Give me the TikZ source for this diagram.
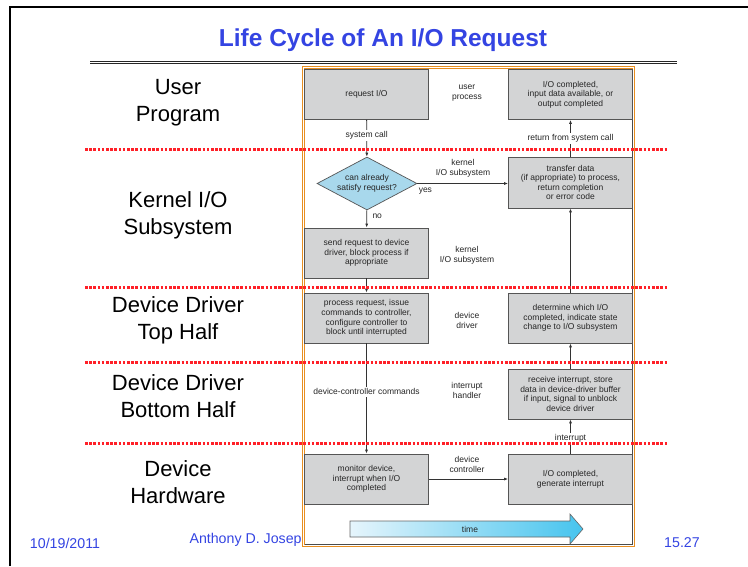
\documentclass[tikz,border=0pt]{standalone}
\usepackage{fontspec}
\setmainfont{Liberation Sans}
\usetikzlibrary{shapes.geometric,arrows.meta}
\definecolor{titleblue}{RGB}{52,68,226}
\definecolor{boxgray}{RGB}{211,212,213}
\definecolor{boxedge}{RGB}{85,85,85}
\definecolor{diamblue}{RGB}{168,216,236}
\definecolor{frameorange}{RGB}{232,142,32}
\definecolor{dotred}{RGB}{255,32,40}
\definecolor{timelight}{RGB}{230,245,252}
\definecolor{timedark}{RGB}{70,196,238}
\newcommand{\figfont}{\fontsize{8.5}{9.6}\selectfont}
\tikzset{
  stagebox/.style={draw=boxedge, fill=boxgray, line width=0.7pt,
    minimum width=124pt, minimum height=50pt, inner sep=2pt,
    align=center, font=\figfont, text=black!85},
  checkbox/.style={diamond, draw=boxedge, fill=diamblue, line width=0.7pt,
    aspect=1.9, inner sep=0pt, minimum width=100pt, minimum height=53pt,
    align=center, font=\figfont, text=black!85},
  tier/.style={align=center, font=\figfont, text=black!85},
  lbl/.style={fill=white, inner sep=1.5pt, font=\figfont, text=black!85},
  flow/.style={draw=black!80, line width=0.8pt, -{Latex[length=4pt,width=3pt]}},
  layer/.style={align=center, font=\fontsize{22}{27}\selectfont},
  footer/.style={font=\fontsize{14.2}{16}\selectfont, text=titleblue},
  border/.style={dotred, line width=3pt, dash pattern=on 2.6pt off 1.6pt}
}
\begin{document}
\begin{tikzpicture}[x=1pt, y=-1pt]
    \useasboundingbox (0,0) rectangle (748,566);
    \def\xl{366.5}
    \def\xm{467}
    \def\xr{570.5}
    % footer
    \node[footer] (date) at (65,543) {10/19/2011};
    \node[footer, anchor=west] (author) at (186,540) {Anthony D. Josep};
    \node[footer] (page) at (682,543) {15.27};
    % figure frame
    \fill[white] (303,67) rectangle (634,546);
    \draw[frameorange, line width=0.9pt] (302.5,66.5) rectangle (634.5,546.5);
    \draw[frameorange, line width=0.9pt] (304.5,68.5) rectangle (632.5,544.5);
    \draw[black!70, line width=1pt] (305,544) -- (632,544) -- (632,69);
    % stages
    \node[stagebox] (req) at (\xl,94.5) {request I/O};
    \node[stagebox] (done) at (\xr,94.5) {I/O completed,\\input data available, or\\output completed};
    \node[checkbox] (check) at (367,183.5) {can already\\satisfy request?};
    \node[stagebox, minimum height=51pt] (xfer) at (\xr,182.5) {transfer data\\(if appropriate) to process,\\return completion\\or error code};
    \node[stagebox] (send) at (\xl,253) {send request to device\\driver, block process if\\appropriate};
    \node[stagebox] (proc) at (\xl,318) {process request, issue\\commands to controller,\\configure controller to\\block until interrupted};
    \node[stagebox] (which) at (\xr,318) {determine which I/O\\completed, indicate state\\change to I/O subsystem};
    \node[stagebox] (recv) at (\xr,394) {receive interrupt, store\\data in device-driver buffer\\if input, signal to unblock\\device driver};
    \node[stagebox] (mon) at (\xl,479) {monitor device,\\interrupt when I/O\\completed};
    \node[stagebox] (gen) at (\xr,479) {I/O completed,\\generate interrupt};
    % tiers
    \node[tier] (t_user) at (\xm,93) {user\\process};
    \node[tier] (t_kern1) at (463,168.5) {kernel\\I/O subsystem};
    \node[tier] (t_kern2) at (\xm,255.5) {kernel\\I/O subsystem};
    \node[tier] (t_drv) at (\xm,320.5) {device\\driver};
    \node[tier] (t_int) at (\xm,390.5) {interrupt\\handler};
    \node[tier] (t_dev) at (\xm,464.5) {device\\controller};
    % flow
    \path (req) edge [flow] node [lbl, pos=0.42] {system call} (check);
    \path (check.east) edge [flow] node [tier, pos=0, anchor=north west, inner sep=1pt, yshift=-3pt] {yes} (xfer.west |- check.east);
    \path (check) edge [flow] node [tier, pos=0.33, right, xshift=2pt] {no} (send);
    \path (send) edge [flow] (proc);
    \path (proc) edge [flow] node [lbl, pos=0.44] {device-controller commands} (mon);
    \path (mon.east) edge [flow] (gen.west |- mon.east);
    \path (gen) edge [flow] node [lbl, pos=0.45] {interrupt} (recv);
    \path (recv) edge [flow] (which);
    \path (which) edge [flow] (xfer);
    \path (xfer) edge [flow] node [lbl] {return from system call} (done);
    % time
    \shade[left color=timelight, right color=timedark, draw=black!60, line width=0.6pt]
      (350,521) -- (570,521) -- (570,514) -- (583,529) -- (570,544) -- (570,537) -- (350,537) -- cycle;
    \node[tier] (time) at (470,529) {time};
    % layer borders
    \foreach \yb in {149,287,362,443}
      \draw[border] (85,\yb) -- (668,\yb);
    \node[layer] (l_user) at (178,103) {User\\Program};
    \node[layer] (l_kern) at (178,215) {Kernel I/O\\Subsystem};
    \node[layer] (l_top) at (178,320.5) {Device Driver\\Top Half};
    \node[layer] (l_bot) at (178,396) {Device Driver\\Bottom Half};
    \node[layer] (l_hw) at (178,482.5) {Device\\Hardware};
    % title
    \node[font=\fontsize{24.5}{28}\selectfont\bfseries, text=titleblue] (title) at (383,40) {Life Cycle of An I/O Request};
    \draw[black!85, line width=0.9pt] (90,61.3) -- (677,61.3);
    \draw[black!85, line width=0.9pt] (90,63.8) -- (677,63.8);
    \draw[black, line width=2.5pt] (10,566) -- (10,7) -- (748,7);
\end{tikzpicture}
\end{document}
